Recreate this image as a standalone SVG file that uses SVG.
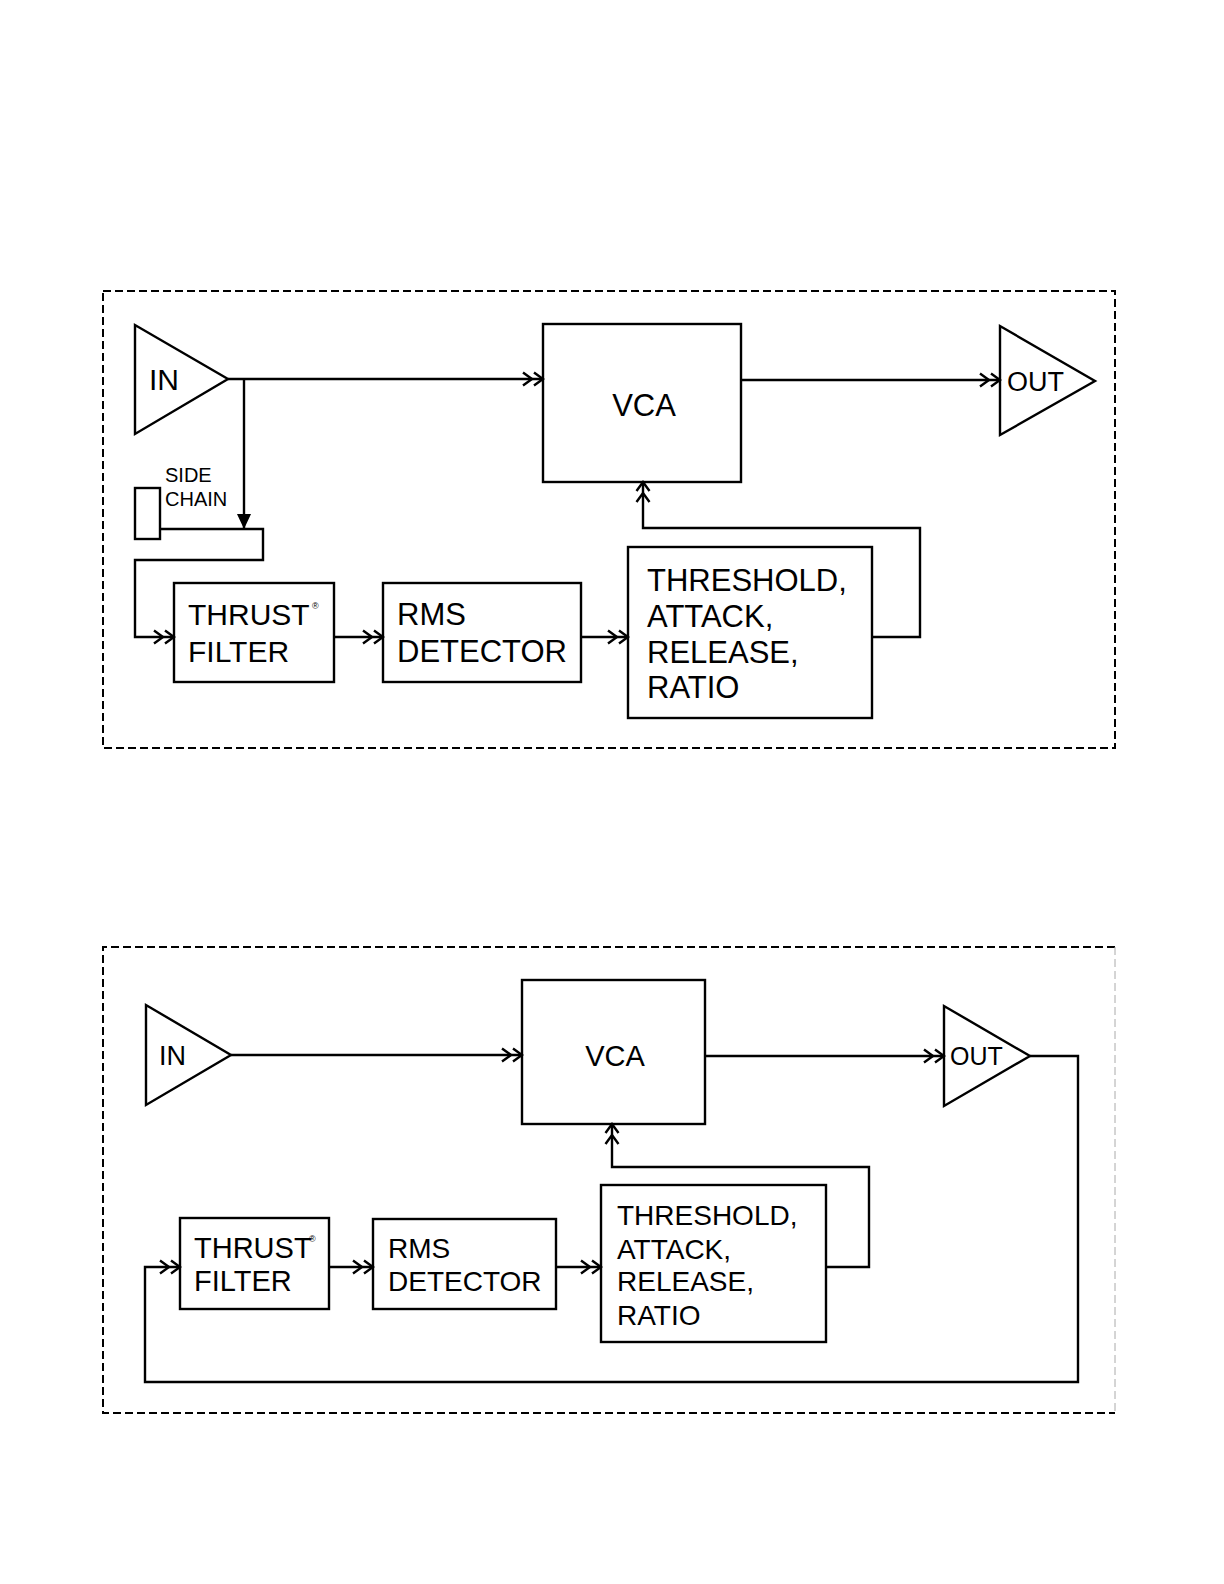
<svg xmlns="http://www.w3.org/2000/svg" width="1224" height="1584" viewBox="0 0 1224 1584">
<style>
.frame{fill:none;stroke:#000;stroke-width:2;stroke-dasharray:8 4}
.frame2{fill:none;stroke:#aaa;stroke-width:1;stroke-dasharray:8 4}
.box{fill:#fff;stroke:#000;stroke-width:2.4}
.conn{fill:none;stroke:#000;stroke-width:2.4;stroke-linejoin:miter}
.t{font-family:"Liberation Sans",Arial,sans-serif;fill:#000}
</style>
<defs>
<marker id="dbl" markerUnits="userSpaceOnUse" viewBox="-23 -8 25 16" markerWidth="25" markerHeight="16" refX="0" refY="0" orient="auto">
<path d="M-9,-6.5 L0,0 L-9,6.5 M-20,-6.5 L-11,0 L-20,6.5" fill="none" stroke="#000" stroke-width="2.4"/>
</marker>
<marker id="fill" markerUnits="userSpaceOnUse" viewBox="-16 -8 17 16" markerWidth="17" markerHeight="16" refX="0" refY="0" orient="auto">
<path d="M-15,-7 L0,0 L-15,7 Z" fill="#000"/>
</marker>
</defs>

<!-- top diagram -->
<rect class="frame" x="103" y="291" width="1012" height="457"/>
<g id="in1"><polygon class="box" points="135,325 135,434 228,379"/><text class="t" x="149" y="390" font-size="30">IN</text></g>
<g id="vca1"><rect class="box" x="543" y="324" width="198" height="158"/><text class="t" x="644" y="416" font-size="31" text-anchor="middle">VCA</text></g>
<g id="out1"><polygon class="box" points="1000,326 1000,435 1095,381"/><text class="t" x="1007" y="391" font-size="27">OUT</text></g>
<g id="sidechain1"><rect class="box" x="135" y="488" width="25" height="51"/><text class="t" x="165" y="482" font-size="20">SIDE</text><text class="t" x="165" y="506" font-size="20">CHAIN</text></g>
<g id="thrust1"><rect class="box" x="174" y="583" width="160" height="99"/><text class="t" x="188" y="625" font-size="30">THRUST</text><text class="t" x="312" y="609" font-size="9">®</text><text class="t" x="188" y="662" font-size="30">FILTER</text></g>
<g id="rms1"><rect class="box" x="383" y="583" width="198" height="99"/><text class="t" x="397" y="625" font-size="31">RMS</text><text class="t" x="397" y="662" font-size="31">DETECTOR</text></g>
<g id="thr1"><rect class="box" x="628" y="547" width="244" height="171"/><text class="t" x="647" y="591" font-size="31">THRESHOLD,</text><text class="t" x="647" y="627" font-size="31">ATTACK,</text><text class="t" x="647" y="663" font-size="31">RELEASE,</text><text class="t" x="647" y="698" font-size="31">RATIO</text></g>
<g id="connectors1">
<path class="conn" d="M228,379 H543" marker-end="url(#dbl)"/>
<path class="conn" d="M741,380 H1000" marker-end="url(#dbl)"/>
<path class="conn" d="M244,379 V529" marker-end="url(#fill)"/>
<path class="conn" d="M160,529 H263 V560 H135 V637 H174" marker-end="url(#dbl)"/>
<path class="conn" d="M334,637 H383" marker-end="url(#dbl)"/>
<path class="conn" d="M581,637 H628" marker-end="url(#dbl)"/>
<path class="conn" d="M872,637 H920 V528 H643 V482" marker-end="url(#dbl)"/>
</g>

<!-- bottom diagram -->
<path class="frame" d="M1115,947 H103 V1413 H1115"/>
<path class="frame2" d="M1115,947 V1413"/>
<g id="in2"><polygon class="box" points="146,1005 146,1105 231,1055"/><text class="t" x="159" y="1065" font-size="27">IN</text></g>
<g id="vca2"><rect class="box" x="522" y="980" width="183" height="144"/><text class="t" x="615" y="1066" font-size="29" text-anchor="middle">VCA</text></g>
<g id="out2"><polygon class="box" points="944,1006 944,1106 1030,1056"/><text class="t" x="950" y="1065" font-size="25">OUT</text></g>
<g id="thrust2"><rect class="box" x="180" y="1218" width="149" height="91"/><text class="t" x="194" y="1258" font-size="29">THRUST</text><text class="t" x="309" y="1242" font-size="9">®</text><text class="t" x="194" y="1291" font-size="29">FILTER</text></g>
<g id="rms2"><rect class="box" x="373" y="1219" width="183" height="90"/><text class="t" x="388" y="1258" font-size="28">RMS</text><text class="t" x="388" y="1291" font-size="28">DETECTOR</text></g>
<g id="thr2"><rect class="box" x="601" y="1185" width="225" height="157"/><text class="t" x="617" y="1225" font-size="28">THRESHOLD,</text><text class="t" x="617" y="1259" font-size="28">ATTACK,</text><text class="t" x="617" y="1291" font-size="28">RELEASE,</text><text class="t" x="617" y="1325" font-size="28">RATIO</text></g>
<g id="connectors2">
<path class="conn" d="M231,1055 H522" marker-end="url(#dbl)"/>
<path class="conn" d="M705,1056 H944" marker-end="url(#dbl)"/>
<path class="conn" d="M1030,1056 H1078 V1382 H145 V1267 H180" marker-end="url(#dbl)"/>
<path class="conn" d="M329,1267 H373" marker-end="url(#dbl)"/>
<path class="conn" d="M556,1267 H601" marker-end="url(#dbl)"/>
<path class="conn" d="M826,1267 H869 V1167 H612 V1124" marker-end="url(#dbl)"/>
</g>
</svg>
